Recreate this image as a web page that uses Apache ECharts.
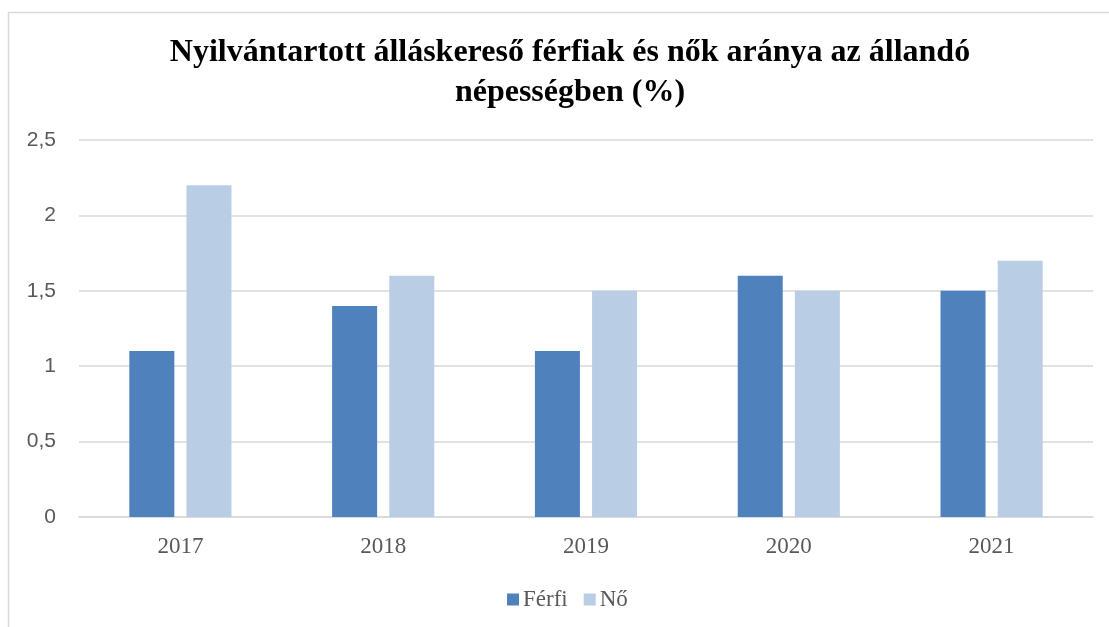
<!DOCTYPE html>
<html>
<head>
<meta charset="utf-8">
<script src="https://cdn.jsdelivr.net/npm/echarts@6/dist/echarts.min.js"></script>
<style>
  html, body { margin: 0; padding: 0; background: #fff; }
  #main { width: 1109px; height: 627px; }
</style>
</head>
<body>
<div id="main"></div>
<script>
const years = ['2017', '2018', '2019', '2020', '2021']
const ferfi = [1.1, 1.4, 1.1, 1.6, 1.5]
const no = [2.2, 1.6, 1.5, 1.5, 1.7]

const chart = echarts.init(document.getElementById('main'))
chart.setOption({
  animation: false,
  graphic: [{
    type: 'rect',
    shape: { x: 8.5, y: 12.5, width: 1110, height: 630 },
    style: { fill: 'none', stroke: '#d9d9d9', lineWidth: 1.5 }
  }],
  title: {
    text: 'Nyilvántartott álláskereső férfiak és nők aránya az állandó\nnépességben (%)',
    left: 565,
    textAlign: 'center',
    top: 28,
    textStyle: {
      fontFamily: 'Liberation Serif',
      fontSize: 32,
      fontWeight: 'bold',
      color: '#000',
      lineHeight: 40
    }
  },
  legend: {
    top: 583,
    left: 502,
    itemWidth: 12,
    itemHeight: 12,
    itemGap: 16,
    icon: 'rect',
    textStyle: { fontFamily: 'Liberation Serif', fontSize: 23, color: '#595959', padding: [0, 0, 0, -1] },
    data: ['Férfi', 'Nő']
  },
  grid: { left: 79, right: 16, top: 140, bottom: 110, containLabel: false },
  xAxis: {
    type: 'category',
    data: years,
    axisLine: { lineStyle: { color: '#d9d9d9', width: 1.5 } },
    axisTick: { show: false },
    axisLabel: { fontFamily: 'Liberation Serif', fontSize: 23, color: '#595959', margin: 18 }
  },
  yAxis: {
    type: 'value',
    min: 0,
    max: 2.5,
    interval: 0.5,
    axisLine: { show: false },
    axisTick: { show: false },
    splitLine: { lineStyle: { color: '#d9d9d9', width: 1.5 } },
    axisLabel: {
      fontFamily: 'Liberation Sans',
      fontSize: 21,
      color: '#595959',
      margin: 23,
      formatter: v => String(v).replace('.', ',')
    }
  },
  series: [
    {
      name: 'Férfi',
      type: 'bar',
      data: ferfi,
      barWidth: 45,
      barGap: '27%',
      itemStyle: { color: '#4f81bd' }
    },
    {
      name: 'Nő',
      type: 'bar',
      data: no,
      barWidth: 45,
      itemStyle: { color: '#b9cde5' }
    }
  ]
})
</script>
</body>
</html>
